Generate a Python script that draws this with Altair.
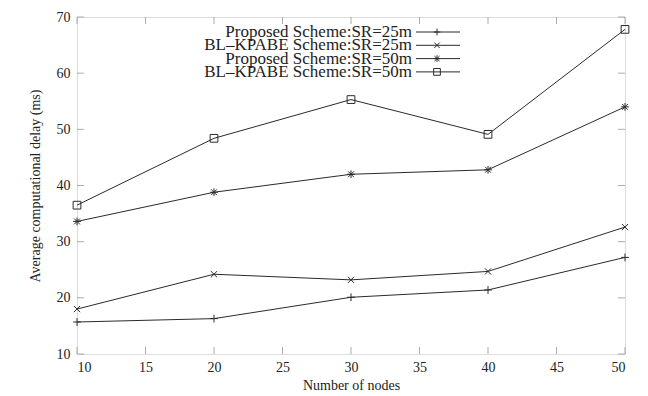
import altair as alt
import pandas as pd

nodes = [10, 20, 30, 40, 50]
series_names = [
    "Proposed Scheme:SR=25m",
    "BL\u2013KPABE Scheme:SR=25m",
    "Proposed Scheme:SR=50m",
    "BL\u2013KPABE Scheme:SR=50m",
]
prop_25 = [15.7, 16.3, 20.1, 21.4, 27.2]
bl_25 = [18.0, 24.2, 23.2, 24.7, 32.6]
prop_50 = [33.6, 38.8, 42.0, 42.8, 54.0]
bl_50 = [36.5, 48.4, 55.3, 49.1, 67.8]
x_ticks = [10, 15, 20, 25, 30, 35, 40, 45, 50]
y_ticks = [10, 20, 30, 40, 50, 60, 70]

shape_paths = [
    "M-1,0L1,0M0,-1L0,1",
    "M-0.8,-0.8L0.8,0.8M-0.8,0.8L0.8,-0.8",
    "M-1,0L1,0M0,-1L0,1M-0.75,-0.75L0.75,0.75M-0.75,0.75L0.75,-0.75",
    "square",
]

W, H = 548, 337
FONT = "Liberation Serif"
LINE = "#2a2a2a"
BORDER = "#8a8a8a"

rows = []
for name, vals in zip(series_names, [prop_25, bl_25, prop_50, bl_50]):
    for n, v in zip(nodes, vals):
        rows.append({"nodes": n, "delay": v, "series": name})
df = pd.DataFrame(rows)

xs = alt.Scale(domain=[10, 50], nice=False, zero=False)
ys = alt.Scale(domain=[10, 70], nice=False, zero=False)
shape_scale = alt.Scale(domain=series_names, range=shape_paths)

base = alt.Chart(df)
lines = base.mark_line(color=LINE, strokeWidth=1).encode(
    x=alt.X("nodes:Q", scale=xs, title="Number of nodes",
            axis=alt.Axis(values=x_ticks, grid=False, domain=False, ticks=False,
                          labelFont=FONT, labelFontSize=14, labelColor="#222",
                          labelPadding=6, titleFont=FONT, titleFontSize=14,
                          titleFontWeight="normal", titleColor="#222", titlePadding=4)),
    y=alt.Y("delay:Q", scale=ys, title="Average computational delay (ms)",
            axis=alt.Axis(values=y_ticks, grid=False, domain=False, ticks=False,
                          labelFont=FONT, labelFontSize=14, labelColor="#222",
                          labelPadding=7, titleFont=FONT, titleFontSize=14,
                          titleFontWeight="normal", titleColor="#222", titlePadding=14)),
    detail="series:N",
)
points = base.mark_point(filled=False, color=LINE, strokeWidth=1, size=60, opacity=1).encode(
    x=alt.X("nodes:Q", scale=xs),
    y=alt.Y("delay:Q", scale=ys),
    shape=alt.Shape("series:N", scale=shape_scale, legend=None),
)

xt = pd.DataFrame({"v": x_ticks})
yt = pd.DataFrame({"v": y_ticks})
tick_bottom = alt.Chart(xt).mark_tick(color=BORDER, thickness=1, size=7).encode(
    x=alt.X("v:Q", scale=xs), y=alt.value(H - 3.5))
tick_top = alt.Chart(xt).mark_tick(color=BORDER, thickness=1, size=7).encode(
    x=alt.X("v:Q", scale=xs), y=alt.value(3.5))
tick_left = alt.Chart(yt).mark_tick(color=BORDER, thickness=1, size=7).encode(
    y=alt.Y("v:Q", scale=ys), x=alt.value(3.5))
tick_right = alt.Chart(yt).mark_tick(color=BORDER, thickness=1, size=7).encode(
    y=alt.Y("v:Q", scale=ys), x=alt.value(W - 3.5))

legend_layers = []
for i, name in enumerate(series_names):
    ld = pd.DataFrame({"series": [name]})
    ry = 15 + i * 13.3
    legend_layers.append(alt.Chart(ld).mark_text(
        align="right", baseline="middle", font=FONT, fontSize=17, color="#222"
    ).encode(text="series:N", x=alt.value(335), y=alt.value(ry)))
    legend_layers.append(alt.Chart(ld).mark_rule(color=LINE, strokeWidth=1).encode(
        x=alt.value(339), x2=alt.value(383), y=alt.value(ry)))
    legend_layers.append(alt.Chart(ld).mark_point(
        filled=False, color=LINE, strokeWidth=1, size=45, opacity=1
    ).encode(x=alt.value(360), y=alt.value(ry),
             shape=alt.Shape("series:N", scale=shape_scale, legend=None)))

chart = alt.layer(lines, points, tick_bottom, tick_top, tick_left, tick_right,
                  *legend_layers).properties(
    width=W, height=H,
    autosize=alt.AutoSizeParams(type="none"),
    padding={"left": 69, "top": 9, "right": 15, "bottom": 40},
).configure_view(stroke=BORDER, strokeWidth=1.5).configure(background="white")

chart.save("out.html", embed_options={"renderer": "svg", "actions": False})
